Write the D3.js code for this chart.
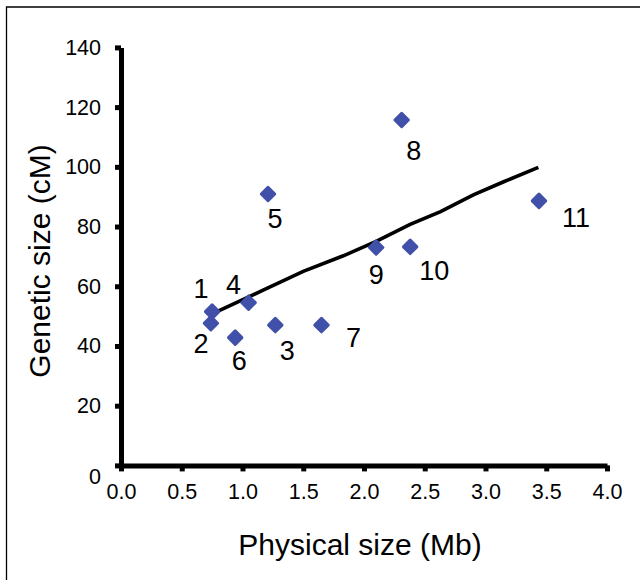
<html lang="en">
<head>
  <meta charset="UTF-8"/>
  <title>Genetic vs physical size</title>
  <script src="https://d3js.org/d3.v7.min.js"></script>
</head>
<body>
  <svg></svg>
</body>
<style>
body {
  margin: 0;
  background: #fff;
}

svg {
  width: 640px;
  height: 580px;
  display: block;
}

text {
  font-family: 'Liberation Sans', Arial, sans-serif;
  fill: #000;
}

.axis text {
  font-size: 21.5px;
}

text.title {
  font-size: 30px;
}

text.label {
  font-size: 27px;
}

.trend {
  fill: none;
  stroke: #000;
  stroke-width: 3.6;
}

.dot {
  fill: #4150a8;
  stroke: #4150a8;
  stroke-width: 3;
  stroke-linejoin: round;
}
</style>

<script>
    // chromosome number, physical size (Mb), genetic size (cM)
    const chromosomes = ['1', '2', '3', '4', '5', '6', '7', '8', '9', '10', '11'];
    const physical = [0.75, 0.74, 1.27, 1.05, 1.21, 0.94, 1.65, 2.31, 2.10, 2.38, 3.44];
    const genetic = [51.5, 47.6, 47.0, 54.5, 90.9, 42.8, 47.0, 115.7, 73.0, 73.2, 88.6];

    // trend line as drawn
    const trendX = [0.79, 1.17, 1.50, 1.83, 2.10, 2.38, 2.63, 2.90, 3.15, 3.435];
    const trendY = [51.5, 58.7, 65.0, 70.2, 75.0, 80.7, 85.0, 90.6, 95.0, 99.8];

    const xTicks = [0, 0.5, 1, 1.5, 2, 2.5, 3, 3.5, 4];
    const yTicks = [0, 20, 40, 60, 80, 100, 120, 140];

    // label offsets in px from each marker
    const labelOffset = [[-11, -23], [-10, 20], [12, 25], [-15, -18], [7, 24], [4, 23],
                         [32, 12], [12, 30], [0, 27], [24, 23], [37, 16]];

    const plotL = 121, plotR = 607, plotT = 47.4, plotB = 465.4;

    const svg = d3.select('svg');

    // outer frame (open to the right and bottom)
    svg.append('path')
      .attr('d', 'M6.5,580 V7 H640')
      .attr('fill', 'none')
      .attr('stroke', '#000')
      .attr('stroke-width', 1.3);

    const x = d3.scaleLinear().domain([0, 4]).range([plotL, plotR]);
    const y = d3.scaleLinear().domain([0, 140]).range([plotB, plotT]);

    function thick(g) {
      g.selectAll('path, line').attr('stroke', '#000').attr('stroke-width', 5);
    }

    svg.append('g')
      .attr('class', 'axis')
      .attr('transform', `translate(0, ${plotB})`)
      .call(d3.axisBottom(x).tickValues(xTicks).tickFormat(d3.format('.1f'))
        .tickSizeInner(6).tickSizeOuter(0).tickPadding(19))
      .call(thick)
      .call(g => g.selectAll('text').attr('dy', '0.4em'));

    svg.append('g')
      .attr('class', 'axis')
      .attr('transform', `translate(${plotL}, 0)`)
      .call(d3.axisLeft(y).tickValues(yTicks).tickFormat(d3.format('d'))
        .tickSizeInner(6).tickSizeOuter(0).tickPadding(14))
      .call(thick)
      .call(g => g.selectAll('.tick').filter(d => d === 0).select('text').attr('y', 11));

    svg.append('text')
      .attr('class', 'title')
      .attr('x', 360)
      .attr('y', 555)
      .attr('text-anchor', 'middle')
      .text('Physical size (Mb)');

    svg.append('text')
      .attr('class', 'title')
      .attr('transform', 'translate(50, 261) rotate(-90)')
      .attr('text-anchor', 'middle')
      .text('Genetic size (cM)');

    const trend = trendX.map((d, i) => [d, trendY[i]]);
    svg.append('path')
      .attr('class', 'trend')
      .attr('d', d3.line().x(d => x(d[0])).y(d => y(d[1]))(trend));

    const pts = chromosomes.map((c, i) => ({ name: c, px: physical[i], gy: genetic[i], off: labelOffset[i] }));

    svg.selectAll('path.dot')
      .data(pts)
      .join('path')
      .attr('class', 'dot')
      .attr('transform', d => `translate(${x(d.px)}, ${y(d.gy)})`)
      .attr('d', d3.symbol().type(d3.symbolDiamond2).size(115));

    svg.selectAll('text.label')
      .data(pts)
      .join('text')
      .attr('class', 'label')
      .attr('x', d => x(d.px) + d.off[0])
      .attr('y', d => y(d.gy) + d.off[1])
      .attr('dy', '0.36em')
      .attr('text-anchor', 'middle')
      .text(d => d.name);
</script>
</html>
